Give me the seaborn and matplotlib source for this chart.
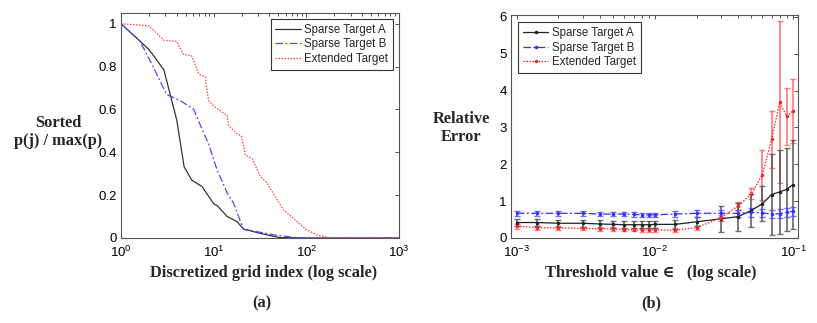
import numpy as np
import pandas as pd
import matplotlib
matplotlib.use("Agg")
import matplotlib.pyplot as plt
import seaborn as sns
from matplotlib.ticker import LogLocator, NullFormatter

sns.set_style("white")
plt.rcParams['font.family'] = ['Liberation Sans', 'DejaVu Sans']

# panel (a): sorted p(j)/max(p) vs grid index
idx_a = [1, 2, 2.9, 4.0, 4.8, 5.8, 7.5, 10, 11, 14, 17.8, 21, 29, 41, 52, 100, 1000]
val_a = [1.0, 0.88, 0.785, 0.55, 0.332, 0.27, 0.24, 0.16, 0.15, 0.10, 0.077, 0.042, 0.026, 0.011, 0.002, 0.0, 0.0]
idx_b = [1, 1.6, 2.16, 3.1, 4.4, 6.1, 7.2, 8.8, 10.9, 14, 16.4, 21, 29, 44, 73, 100, 1000]
val_b = [1.0, 0.92, 0.81, 0.67, 0.64, 0.60, 0.525, 0.44, 0.317, 0.21, 0.162, 0.04, 0.03, 0.015, 0.003, 0.0, 0.0]
idx_e = [1, 2, 2.9, 4.0, 4.7, 5.8, 6.9, 8.1, 8.8, 10.4, 14, 14.5, 17.8, 20, 22, 26, 32, 37.5, 46, 57, 79, 100, 130, 180, 1000]
val_e = [1.0, 0.99, 0.923, 0.917, 0.858, 0.85, 0.765, 0.753, 0.641, 0.61, 0.572, 0.525, 0.487, 0.475, 0.386,
         0.371, 0.286, 0.258, 0.193, 0.131, 0.077, 0.039, 0.015, 0.0, 0.0]

# panel (b): relative error vs threshold
eps = [0.001, 0.0014, 0.002, 0.003, 0.004, 0.005, 0.006, 0.007, 0.008, 0.009, 0.01,
       0.014, 0.02, 0.03, 0.04, 0.05, 0.06, 0.07, 0.08, 0.09, 0.1]
err_a = [0.42, 0.42, 0.40, 0.40, 0.38, 0.37, 0.36, 0.36, 0.36, 0.36, 0.37,
         0.37, 0.44, 0.52, 0.58, 0.75, 0.93, 1.18, 1.25, 1.32, 1.45]
sd_a = [0.1, 0.1, 0.1, 0.1, 0.1, 0.1, 0.1, 0.1, 0.1, 0.1, 0.1,
        0.12, 0.12, 0.35, 0.38, 0.45, 0.48, 1.1, 1.13, 1.12, 1.2]
err_b = [0.67, 0.67, 0.67, 0.67, 0.65, 0.65, 0.65, 0.64, 0.63, 0.63, 0.63,
         0.65, 0.67, 0.67, 0.67, 0.70, 0.68, 0.65, 0.66, 0.70, 0.72]
sd_b = [0.06, 0.06, 0.06, 0.06, 0.06, 0.06, 0.06, 0.06, 0.06, 0.06, 0.06,
        0.08, 0.1, 0.1, 0.1, 0.12, 0.12, 0.12, 0.12, 0.12, 0.13]
err_e = [0.32, 0.28, 0.28, 0.26, 0.25, 0.25, 0.23, 0.23, 0.22, 0.22, 0.22,
         0.21, 0.28, 0.55, 0.87, 1.2, 1.72, 2.68, 3.68, 3.3, 3.45]
sd_e = [0.07, 0.05, 0.05, 0.05, 0.05, 0.05, 0.05, 0.05, 0.05, 0.05, 0.05,
        0.05, 0.05, 0.08, 0.12, 0.15, 0.68, 0.77, 2.2, 0.78, 0.87]

labels = ["Sparse Target A", "Sparse Target B", "Extended Target"]

fig = plt.figure(figsize=(8.17, 3.23), dpi=100)
ax1 = fig.add_axes([121 / 817, 1 - 238 / 323, 278 / 817, 225 / 323])
ax2 = fig.add_axes([511 / 817, 1 - 238 / 323, 287 / 817, 223 / 323])

# (a)
sns.lineplot(x=idx_a, y=val_a, ax=ax1, color="#333333", lw=0.9, label=labels[0])
sns.lineplot(x=idx_b, y=val_b, ax=ax1, color="#4a4aff", lw=0.9, label=labels[1])
sns.lineplot(x=idx_e, y=val_e, ax=ax1, color="#ff4040", lw=0.9, label=labels[2])
ax1.lines[1].set_linestyle((0, (6, 2, 1.5, 2)))
ax1.lines[2].set_linestyle((0, (1.2, 1.2)))
ax1.set_xscale("log")
ax1.set_xlim(1, 1000)
ax1.set_ylim(0, 1.05)
ax1.set_yticks([0, 0.2, 0.4, 0.6, 0.8, 1])
ax1.set_yticklabels(["0", "0.2", "0.4", "0.6", "0.8", "1"])

# (b)
df = pd.DataFrame({"eps": eps * 3, "err": err_a + err_b + err_e,
                   "series": [labels[0]] * 21 + [labels[1]] * 21 + [labels[2]] * 21})
cols = {labels[0]: "#222222", labels[1]: "#3030ff", labels[2]: "#ff2020"}
bar_cols = [(0.3, 0.3, 0.3, 0.8), (0.3, 0.3, 1.0, 0.8), (1.0, 0.35, 0.35, 0.75)]
ax2.errorbar(eps, err_e, yerr=sd_e, fmt="none", ecolor=bar_cols[2], elinewidth=1.3, capsize=2.5)
ax2.errorbar(eps, err_a, yerr=sd_a, fmt="none", ecolor=bar_cols[0], elinewidth=1.3, capsize=2.5)
ax2.errorbar(eps, err_b, yerr=sd_b, fmt="none", ecolor=bar_cols[1], elinewidth=1.3, capsize=2.5)
sns.lineplot(data=df, x="eps", y="err", hue="series", style="series", palette=cols,
             dashes={labels[0]: "", labels[1]: (6, 2, 1.5, 2), labels[2]: (1.2, 1.2)},
             markers={labels[0]: "o", labels[1]: "o", labels[2]: "o"},
             markersize=2.5, markeredgewidth=0, lw=0.9, ax=ax2)
ax2.set_xscale("log")
ax2.set_xlim(10 ** -3.043, 10 ** -0.964)
ax2.set_ylim(0, 6.05)
ax2.set_yticks(range(7))

for ax in (ax1, ax2):
    ax.tick_params(which="both", direction="in", top=True, right=True, labelsize=9.5,
                   pad=2, length=3, width=0.6, colors="#333333", labelcolor="black")
    ax.tick_params(axis="x", which="major", pad=5)
    ax.tick_params(axis="y", which="major", pad=3)
    ax.tick_params(which="minor", length=1.8)
    ax.xaxis.set_minor_locator(LogLocator(base=10, subs=np.arange(2, 10), numticks=20))
    ax.xaxis.set_minor_formatter(NullFormatter())
    for s in ax.spines.values():
        s.set_color("#555555")
        s.set_linewidth(0.8)
    ax.set_xlabel("")
    ax.set_ylabel("")

leg_kw = dict(fontsize=8.3, frameon=True, fancybox=False, edgecolor="black",
              borderpad=0.4, labelspacing=0.22, handlelength=2.2, handletextpad=0.3)
leg1 = ax1.legend(loc="upper right", borderaxespad=0.55, **leg_kw)
leg1.get_frame().set_linewidth(0.8)
leg2 = ax2.legend(loc="upper left", borderaxespad=0.65, **leg_kw)
leg2.get_frame().set_linewidth(0.8)

serif = dict(family=["Liberation Serif", "DejaVu Serif", "DejaVu Sans"], weight="bold",
             fontsize=11.8)
fig.text(58 / 817, 1 - 132 / 323, "Sorted\np(j) / max(p)", ha="center", va="center",
         linespacing=1.2, **serif)
fig.text(461 / 817, 1 - 128 / 323, "Relative\nError", ha="center", va="center",
         linespacing=1.2, **serif)
fig.text(264 / 817, 1 - 273 / 323, "Discretized grid index (log scale)", ha="center",
         va="center", **serif)
fig.text(651 / 817, 1 - 273 / 323, "Threshold value \u2208   (log scale)", ha="center",
         va="center", **serif)
fig.text(262 / 817, 1 - 303 / 323, "(a)", ha="center", va="center", **serif)
fig.text(651 / 817, 1 - 303 / 323, "(b)", ha="center", va="center", **serif)

fig.savefig("out.png", dpi=100)
